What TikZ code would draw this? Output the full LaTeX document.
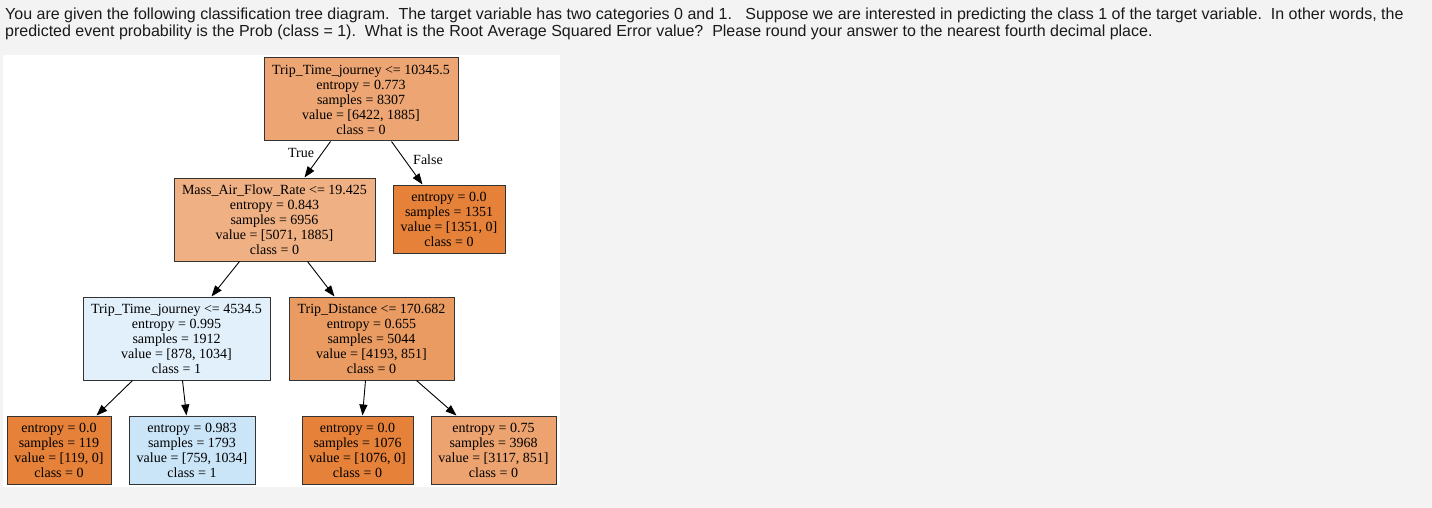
\documentclass[tikz,border=0pt]{standalone}
\usepackage{fontspec}
\setmainfont{Liberation Serif}
\newfontfamily\qfont{Liberation Sans}
\usetikzlibrary{arrows.meta}
\definecolor{bggray}{HTML}{F3F3F3}
\definecolor{qtext}{HTML}{1A1A1A}
\definecolor{cRoot}{HTML}{EDA673}
\definecolor{cMass}{HTML}{EFB083}
\definecolor{cPure}{HTML}{E58139}
\definecolor{cTTJ}{HTML}{E1F0FB}
\definecolor{cTD}{HTML}{EA9B61}
\definecolor{cLtwo}{HTML}{CAE5F8}
\definecolor{cLfour}{HTML}{ECA36F}
\tikzset{
  treebox/.style={draw=black!80, line width=1pt, rectangle, inner sep=0pt,
    align=center, font=\fontsize{14}{15}\selectfont, text=black},
  edge/.style={line width=0.9pt, -{Triangle[length=11pt,width=8pt]}},
  elabel/.style={font=\fontsize{14}{15}\selectfont, inner sep=0pt},
  qline/.style={anchor=base west, inner sep=0pt, text=qtext,
    font=\qfont\fontsize{16}{17}\selectfont}
}
\begin{document}
\begin{tikzpicture}[x=1pt,y=-1pt]
\useasboundingbox (0,0) rectangle (1432,508);
\fill[bggray] (0,0) rectangle (1432,508);
\fill[white] (3,55) rectangle (560,487);

\node[qline] (q1) at (5,20) {You are given the following classification tree diagram.\ \ The target variable has two categories 0 and 1.\ \ \ Suppose we are interested in predicting the class 1 of the target variable.\ \ In other words, the};
\node[qline] (q2) at (5,37) {predicted event probability is the Prob (class = 1).\ \ What is the Root Average Squared Error value?\ \ Please round your answer to the nearest fourth decimal place.};

\node[treebox, fill=cRoot, minimum width=194pt, minimum height=83pt] (root) at (361,99.5)
  {Trip\_Time\_journey <= 10345.5\\entropy = 0.773\\samples = 8307\\value = [6422, 1885]\\class = 0};
\node[treebox, fill=cMass, minimum width=201pt, minimum height=83pt] (mass) at (274.5,219.5)
  {Mass\_Air\_Flow\_Rate <= 19.425\\entropy = 0.843\\samples = 6956\\value = [5071, 1885]\\class = 0};
\node[treebox, fill=cPure, minimum width=112pt, minimum height=68pt] (fleaf) at (449,219)
  {entropy = 0.0\\samples = 1351\\value = [1351, 0]\\class = 0};
\node[treebox, fill=cTTJ, minimum width=187pt, minimum height=83pt] (ttj) at (176.5,338.5)
  {Trip\_Time\_journey <= 4534.5\\entropy = 0.995\\samples = 1912\\value = [878, 1034]\\class = 1};
\node[treebox, fill=cTD, minimum width=165pt, minimum height=83pt] (td) at (371.5,338.5)
  {Trip\_Distance <= 170.682\\entropy = 0.655\\samples = 5044\\value = [4193, 851]\\class = 0};
\node[treebox, fill=cPure, minimum width=104pt, minimum height=68pt] (l1) at (59,450)
  {entropy = 0.0\\samples = 119\\value = [119, 0]\\class = 0};
\node[treebox, fill=cLtwo, minimum width=126pt, minimum height=68pt] (l2) at (192,450)
  {entropy = 0.983\\samples = 1793\\value = [759, 1034]\\class = 1};
\node[treebox, fill=cPure, minimum width=111pt, minimum height=68pt] (l3) at (357.5,450)
  {entropy = 0.0\\samples = 1076\\value = [1076, 0]\\class = 0};
\node[treebox, fill=cLfour, minimum width=125pt, minimum height=68pt] (l4) at (493.5,450)
  {entropy = 0.75\\samples = 3968\\value = [3117, 851]\\class = 0};

\draw[edge] ([xshift=67pt]root.south west) -- ([xshift=131pt]mass.north west);
\draw[edge] ([xshift=128pt]root.south west) -- ([xshift=30pt]fleaf.north west);
\draw[edge] ([xshift=66pt]mass.south west) -- ([xshift=129pt]ttj.north west);
\draw[edge] ([xshift=134pt]mass.south west) -- ([xshift=46pt]td.north west);
\draw[edge] ([xshift=50pt]ttj.south west) -- ([xshift=90pt]l1.north west);
\draw[edge] ([xshift=100pt]ttj.south west) -- ([xshift=58pt]l2.north west);
\draw[edge] ([xshift=77pt]td.south west) -- ([xshift=61pt]l3.north west);
\draw[edge] ([xshift=128pt]td.south west) -- ([xshift=26pt]l4.north west);

\node[elabel] (tlab) at (301,153) {True};
\node[elabel] (flab) at (428,160) {False};
\end{tikzpicture}
\end{document}
